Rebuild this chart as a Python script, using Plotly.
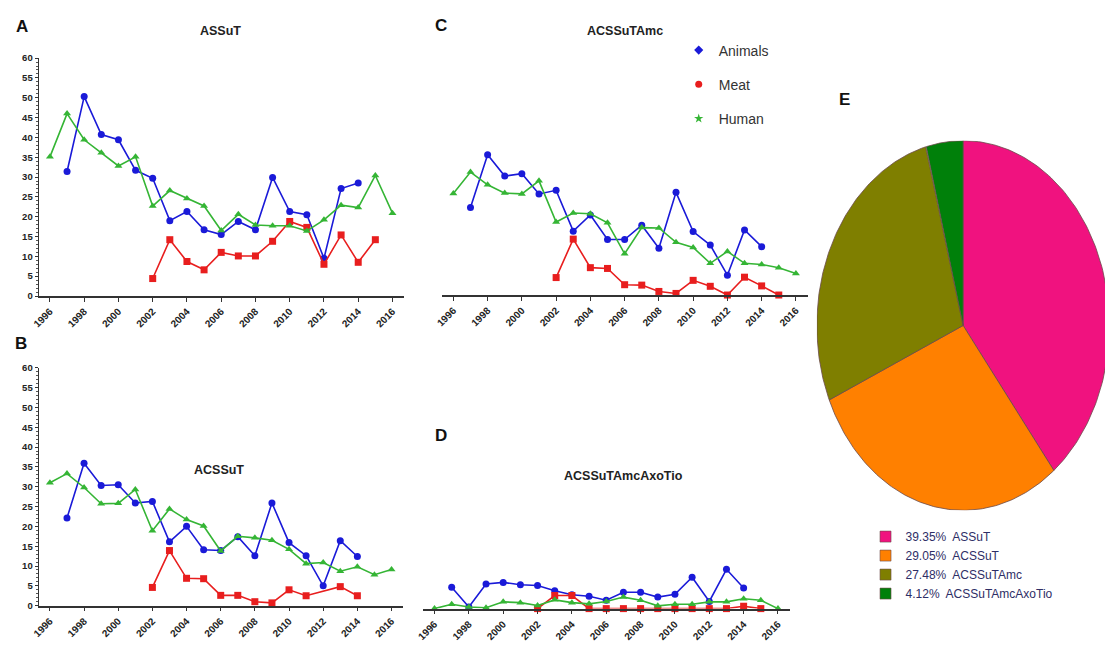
import numpy as np
import plotly.graph_objects as go

W, H = 1105, 649

years = list(range(1996, 2017))

# ---- Panel A: ASSuT ----
a_animals = [None, 31.4, 50.3, 40.7, 39.4, 31.7, 29.7, 19.0, 21.3, 16.7, 15.5,
             18.8, 16.7, 29.9, 21.3, 20.5, 9.5, 27.1, 28.5, None, None]
a_meat = [None, None, None, None, None, None, 4.4, 14.2, 8.7, 6.6, 11.0,
          10.1, 10.1, 13.8, 18.8, 17.3, 8.0, 15.4, 8.5, 14.2, None]
a_human = [35.1, 46.0, 39.4, 36.1, 32.8, 35.1, 22.7, 26.6, 24.6, 22.7, 16.5,
           20.6, 17.9, 17.7, 17.7, 16.4, 19.2, 22.9, 22.3, 30.4, 20.9]

# ---- Panel B: ACSSuT ----
b_animals = [None, 22.1, 35.9, 30.3, 30.5, 25.9, 26.3, 16.1, 20.0, 14.1, 13.9,
             17.4, 12.6, 25.9, 15.9, 12.6, 5.0, 16.4, 12.4, None, None]
b_meat = [None, None, None, None, None, None, 4.6, 13.9, 6.9, 6.8, 2.6,
          2.6, 1.0, 0.7, 4.0, 2.5, None, 4.8, 2.5, None, None]
b_human = [31.0, 33.3, 29.8, 25.7, 25.8, 29.3, 18.9, 24.4, 21.7, 20.1, 13.8,
           17.5, 17.1, 16.5, 14.2, 10.6, 10.9, 8.7, 9.8, 7.8, 9.1]

# ---- Panel C: ACSSuTAmc ----
c_animals = [None, 22.1, 35.4, 30.0, 30.6, 25.5, 26.4, 16.1, 20.2, 14.0, 14.0,
             17.6, 11.8, 25.9, 16.0, 12.6, 5.0, 16.4, 12.2, None, None]
c_meat = [None, None, None, None, None, None, 4.4, 14.1, 6.9, 6.7, 2.6,
          2.5, 0.9, 0.4, 3.7, 2.2, 0.0, 4.5, 2.3, 0.0, None]
c_human = [25.6, 31.0, 27.8, 25.7, 25.5, 28.8, 18.4, 20.7, 20.5, 18.2, 10.4,
           17.0, 16.9, 13.3, 12.0, 8.0, 11.0, 8.0, 7.7, 6.9, 5.4]

# ---- Panel D: ACSSuTAmcAxoTio ----
d_animals = [None, 5.4, 0.4, 6.2, 6.6, 6.0, 5.8, 4.5, 3.5, 3.1, 2.1,
             4.1, 4.1, 2.9, 3.6, 7.9, 1.8, 9.9, 5.2, None, None]
d_meat = [None, None, None, None, None, None, 0.0, 3.3, 3.3, 0.0, 0.0,
          0.0, 0.0, 0.0, 0.0, 0.0, 0.0, 0.0, 0.6, 0.0, None]
d_human = [0.0, 1.1, 0.4, 0.2, 1.7, 1.5, 0.8, 2.2, 1.5, 1.2, 1.8,
           2.9, 2.1, 0.7, 1.1, 1.1, 1.7, 1.7, 2.5, 2.1, 0.0]

# ---- Panel E: share of resistance profiles ----
pie_labels = ["ASSuT", "ACSSuT", "ACSSuTAmc", "ACSSuTAmcAxoTio"]
pie_values = [39.35, 29.05, 27.48, 4.12]
pie_colors = ["#f0127f", "#ff8000", "#7f7f00", "#00800a"]

series_names = ["Animals", "Meat", "Human"]
series_colors = ["#1a1ad8", "#e81e1e", "#35b535"]
series_symbols = ["circle", "square", "triangle-up"]
legend_symbols = ["diamond", "circle", "star"]

FONT = "Liberation Sans, Arial, sans-serif"


def px_x(p):
    return p / W


def px_y(p):
    return 1 - p / H


fig = go.Figure()

panels = [
    ("x", "y", [a_animals, a_meat, a_human]),
    ("x2", "y2", [b_animals, b_meat, b_human]),
    ("x3", "y3", [c_animals, c_meat, c_human]),
    ("x4", "y4", [d_animals, d_meat, d_human]),
]

for xa, ya, data in panels:
    for name, vals, col, sym in zip(series_names, data, series_colors, series_symbols):
        fig.add_trace(go.Scatter(
            x=years, y=vals, name=name, xaxis=xa, yaxis=ya,
            mode="lines+markers", connectgaps=True, cliponaxis=False,
            line=dict(color=col, width=1.6),
            marker=dict(color=col, symbol=sym, size=7),
            showlegend=False, hoverinfo="x+y+name",
        ))

# series legend (marker-only entries)
for name, col, sym in zip(series_names, series_colors, legend_symbols):
    fig.add_trace(go.Scatter(
        x=[None], y=[None], name=name, mode="markers", xaxis="x", yaxis="y",
        marker=dict(color=col, symbol=sym, size=7),
        legend="legend", legendgroup=name, showlegend=True,
    ))

# pie drawn as wedges on an axis pair so the disc can be stretched to an ellipse
total = sum(pie_values)
start = 90.0
for lab, val, col in zip(pie_labels, pie_values, pie_colors):
    sweep = 360.0 * val / total
    th = np.radians(np.linspace(start, start - sweep, 120))
    xs = np.concatenate([[0.0], np.cos(th), [0.0]])
    ys = np.concatenate([[0.0], np.sin(th), [0.0]])
    fig.add_trace(go.Scatter(
        x=xs, y=ys, xaxis="x5", yaxis="y5", mode="lines", fill="toself",
        fillcolor=col, line=dict(color="#6b4a4a", width=0.8),
        name=lab, showlegend=False, hoverinfo="name",
    ))
    start -= sweep

# pie key with square swatches
for lab, val, col in zip(pie_labels, pie_values, pie_colors):
    fig.add_trace(go.Scatter(
        x=[None], y=[None], xaxis="x5", yaxis="y5", mode="markers",
        marker=dict(color=col, symbol="square", size=11,
                    line=dict(color="#6b4a4a", width=0.6)),
        name=f"{val:.2f}%  {lab}", legend="legend2", showlegend=True,
    ))


def xaxis_common(dom, anchor):
    return dict(
        domain=dom, anchor=anchor, range=[1995.35, 2016.7],
        tickmode="linear", tick0=1996, dtick=2, tickangle=-45,
        ticks="outside", ticklen=4, tickwidth=1.2, tickcolor="#333",
        showline=True, linecolor="#333", linewidth=1.6,
        showgrid=False, zeroline=False,
        tickfont=dict(family=FONT, size=10, color="#222", weight="bold"),
    )


def yaxis_visible(dom, anchor):
    return dict(
        domain=dom, anchor=anchor, range=[0, 60],
        tickmode="linear", tick0=0, dtick=5,
        ticks="outside", ticklen=3, tickwidth=1.2, tickcolor="#333",
        minor=dict(dtick=1, ticks="outside", ticklen=1.5, tickcolor="#555"),
        showline=True, linecolor="#333", linewidth=1.4,
        showgrid=False, zeroline=False,
        tickfont=dict(family=FONT, size=9.5, color="#222", weight="bold"),
    )


def yaxis_hidden(dom, anchor, rng):
    return dict(domain=dom, anchor=anchor, range=rng, visible=False,
                showgrid=False, zeroline=False)


fig.update_layout(
    width=W, height=H, margin=dict(l=0, r=0, t=0, b=0),
    paper_bgcolor="white", plot_bgcolor="rgba(0,0,0,0)",
    xaxis=xaxis_common([px_x(32), px_x(400)], "y"),
    yaxis=yaxis_visible([px_y(295), px_y(53)], "x"),
    xaxis2=xaxis_common([px_x(32), px_x(399)], "y2"),
    yaxis2=yaxis_visible([px_y(610), px_y(368)], "x2"),
    xaxis3=xaxis_common([px_x(438), px_x(806)], "y3"),
    yaxis3=yaxis_hidden([px_y(294), px_y(52)], "x3", [0, 60]),
    xaxis4=xaxis_common([px_x(419), px_x(788)], "y4"),
    yaxis4=yaxis_hidden([px_y(613), px_y(512)], "x4", [0, 25]),
    xaxis5=dict(domain=[px_x(815), 1.0], anchor="y5", range=[-1.0, 0.97],
                visible=False, showgrid=False, zeroline=False),
    yaxis5=dict(domain=[px_y(513), px_y(137)], anchor="x5", range=[-1.0, 1.0],
                visible=False, showgrid=False, zeroline=False),
    legend=dict(
        x=px_x(676), y=px_y(29), xanchor="left", yanchor="top",
        bgcolor="rgba(0,0,0,0)", tracegroupgap=13, itemwidth=30,
        font=dict(family=FONT, size=14, color="#333"),
    ),
    legend2=dict(
        x=px_x(864), y=px_y(525), xanchor="left", yanchor="top",
        bgcolor="rgba(0,0,0,0)", tracegroupgap=0, itemwidth=30,
        font=dict(family=FONT, size=12, color="#2e2e66"),
    ),
)

# panel letters and titles
letters = [("A", 15, 21), ("B", 14, 343), ("C", 437, 20), ("D", 437, 437), ("E", 843, 95)]
for t, x, y in letters:
    fig.add_annotation(text=t, x=px_x(x), y=px_y(y), xref="paper", yref="paper",
                       showarrow=False, xanchor="center", yanchor="middle",
                       font=dict(family=FONT, size=17, color="#111", weight="bold"))

titles = [("ASSuT", 215, 25), ("ACSSuT", 213, 472), ("ACSSuTAmc", 622, 25),
          ("ACSSuTAmcAxoTio", 620, 478)]
for t, x, y in titles:
    fig.add_annotation(text=t, x=px_x(x), y=px_y(y), xref="paper", yref="paper",
                       showarrow=False, xanchor="center", yanchor="middle",
                       font=dict(family=FONT, size=12.5, color="#222", weight="bold"))

fig.write_html("out.html")
